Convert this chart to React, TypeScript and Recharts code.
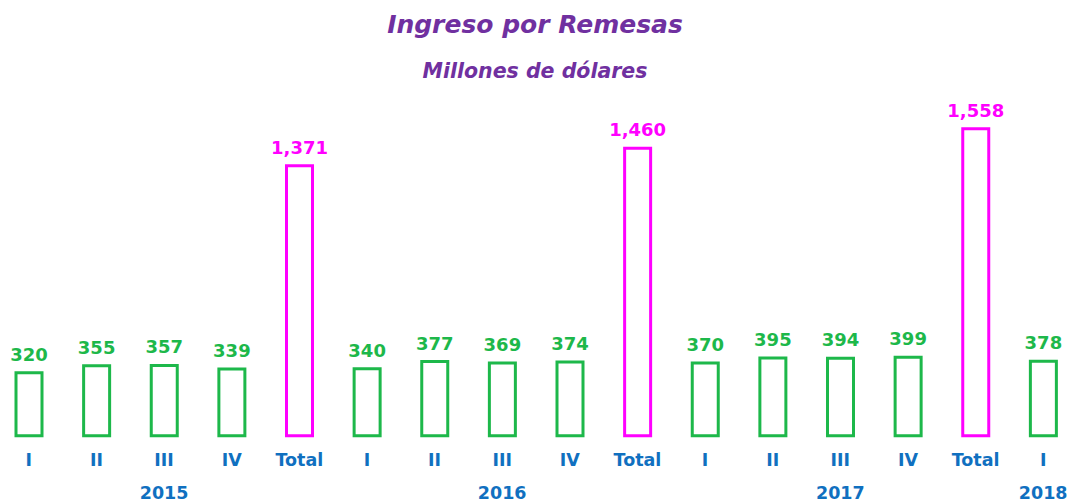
import React from 'react';
import { BarChart, Bar, XAxis, YAxis, Cell, LabelList } from 'recharts';

const quarters = ['I', 'II', 'III', 'IV', 'Total', 'I', 'II', 'III', 'IV', 'Total', 'I', 'II', 'III', 'IV', 'Total', 'I'];
const values = [320, 355, 357, 339, 1371, 340, 377, 369, 374, 1460, 370, 395, 394, 399, 1558, 378];
const years = ['', '', '2015', '', '', '', '', '2016', '', '', '', '', '2017', '', '', '2018'];
const isTotal = quarters.map((q) => q === 'Total');

const GREEN = '#1DB84A';
const MAGENTA = '#FF00FF';
const BLUE = '#1070C0';
const PURPLE = '#7030A0';
const FONT = "'DejaVu Sans', Verdana, sans-serif";

const data = quarters.map((q, i) => ({ key: `c${i}`, quarter: q, value: values[i], year: years[i], total: isTotal[i] }));

const Tick = (props: any) => {
  const { x, y, payload } = props;
  const i = payload.index;
  const d = data[i];
  if (!d) return null;
  return (
    <g>
      <text x={x} y={y + 30} textAnchor="middle" fill={BLUE} fontFamily={FONT} fontWeight="bold" fontSize={17.5}>
        {d.quarter}
      </text>
      {d.year ? (
        <text x={x} y={y + 63} textAnchor="middle" fill={BLUE} fontFamily={FONT} fontWeight="bold" fontSize={17.5}>
          {d.year}
        </text>
      ) : null}
    </g>
  );
};

const renderLabel = (props: any) => {
  const { x, y, width, value, index } = props;
  let idx = typeof index === 'number' ? index : values.indexOf(Number(value));
  const color = isTotal[idx] ? MAGENTA : GREEN;
  return (
    <text
      x={Number(x) + Number(width) / 2}
      y={Number(y) - 12}
      textAnchor="middle"
      fill={color}
      fontFamily={FONT}
      fontWeight="bold"
      fontSize={18}
    >
      {Number(value).toLocaleString('en-US')}
    </text>
  );
};

export default function App() {
  return (
    <div style={{ position: 'absolute', left: 0, top: 0, width: 1070, height: 504, overflow: 'hidden', background: '#fff' }}>
      <svg width={1070} height={110} style={{ position: 'absolute', left: 0, top: 0 }}>
        <text x={535} y={33} textAnchor="middle" fill={PURPLE} fontFamily={FONT} fontWeight="bold" fontStyle="italic" fontSize={25}>
          Ingreso por Remesas
        </text>
        <text x={535} y={78} textAnchor="middle" fill={PURPLE} fontFamily={FONT} fontWeight="bold" fontStyle="italic" fontSize={20.5}>
          Millones de dólares
        </text>
      </svg>
      <div style={{ position: 'absolute', left: -5, top: 0 }}>
        <BarChart width={1082} height={504} data={data} margin={{ top: 120.6, right: 0, bottom: 0, left: 0 }}>
          <XAxis
            dataKey="key"
            axisLine={false}
            tickLine={false}
            tickSize={0}
            tickMargin={0}
            height={68.2}
            interval={0}
            tick={<Tick />}
          />
          <YAxis hide domain={[0, 1600]} />
          <Bar dataKey="value" barSize={26} strokeWidth={3} isAnimationActive={false}>
            {data.map((d, i) => (
              <Cell key={i} fill="#ffffff" stroke={d.total ? MAGENTA : GREEN} />
            ))}
            <LabelList dataKey="value" content={renderLabel} />
          </Bar>
        </BarChart>
      </div>
    </div>
  );
}
